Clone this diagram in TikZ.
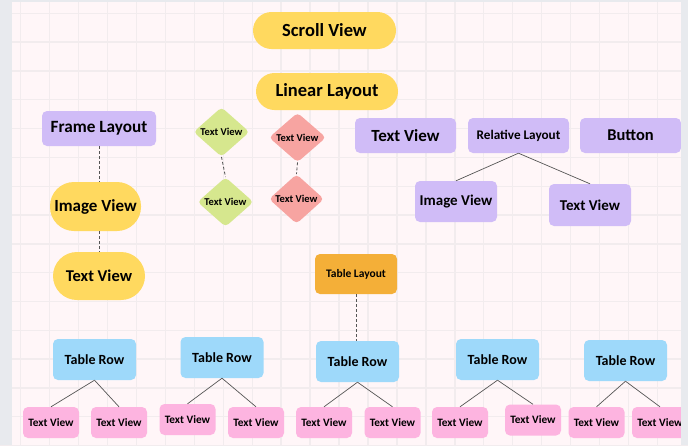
\documentclass[tikz,border=0pt]{standalone}
\usepackage{fontspec}
\setmainfont{Carlito}
\usetikzlibrary{shapes.geometric}
\definecolor{bgc}{HTML}{FFF6F8}
\definecolor{gridc}{HTML}{F2ECEE}
\definecolor{stripc}{HTML}{E8EAEE}
\definecolor{yel}{HTML}{FFD95F}
\definecolor{pur}{HTML}{D0BCF7}
\definecolor{grn}{HTML}{D6E78E}
\definecolor{salm}{HTML}{F7A4A1}
\definecolor{org}{HTML}{F4AF38}
\definecolor{blu}{HTML}{9ED9FA}
\definecolor{pnk}{HTML}{FDB4E0}
\definecolor{linec}{HTML}{555555}
\begin{document}
\begin{tikzpicture}[x=1pt,y=-1pt,
  base/.style={inner sep=0pt, align=center, font=\bfseries},
  pill/.style={base, fill=yel, rounded corners=#1},
  purbox/.style={base, fill=pur, rounded corners=5pt, minimum width=101pt, minimum height=35pt},
  dia/.style={base, diamond, rounded corners=4pt, minimum width=56pt, minimum height=48pt, font=\bfseries\fontsize{10.5}{12}\selectfont},
  rowbox/.style={base, fill=blu, rounded corners=5pt, minimum width=83pt, minimum height=41pt, font=\bfseries\fontsize{14}{16}\selectfont},
  tvbox/.style={base, fill=pnk, rounded corners=5pt, minimum width=56pt, minimum height=31pt, font=\bfseries\fontsize{11.3}{13}\selectfont},
  dashc/.style={draw=linec, line width=0.8pt, dash pattern=on 3pt off 2pt},
  solidc/.style={draw=linec, line width=0.7pt}]
\useasboundingbox (0,0) rectangle (688,445);
\fill[bgc] (0,0) rectangle (688,445);
\foreach \i in {0,...,23} \draw[gridc, line width=1.4pt] ({20.7+28.94*\i},0) -- ++(0,445);
\foreach \j in {0,...,15} \draw[gridc, line width=1.4pt] (0,{13.3+28.82*\j}) -- ++(688,0);
\fill[stripc] (0,0) rectangle (12,445);
\fill[stripc] (0,0) rectangle (688,2);

% top column
\node[pill=18.5pt, minimum width=143pt, minimum height=37pt, font=\bfseries\fontsize{18.5}{20}\selectfont] (scroll) at (324.5,30.5) {Scroll View};
\node[pill=18.5pt, minimum width=142pt, minimum height=37pt, font=\bfseries\fontsize{18.5}{20}\selectfont] (linear) at (327,91.5) {Linear Layout};

% left column
\node[base, fill=pur, rounded corners=5pt, minimum width=114pt, minimum height=35pt, font=\bfseries\fontsize{17.2}{18}\selectfont] (frame) at (99,128.5) {Frame Layout};
\node[pill=24pt, minimum width=91pt, minimum height=49pt, font=\bfseries\fontsize{17}{18}\selectfont] (imgY) at (95.5,206.5) {Image View};
\node[pill=24pt, minimum width=92pt, minimum height=48pt, font=\bfseries\fontsize{16.5}{18}\selectfont] (txtY) at (99,276) {Text View};
\draw[dashc] (frame.south) -- (frame.south |- imgY.north);
\draw[dashc] (imgY.south -| frame.south) -- (frame.south |- txtY.north);

% diamonds
\node[dia, fill=grn] (g1) at (221.5,132) {Text View};
\node[dia, fill=grn] (g2) at (225.5,202) {Text View};
\node[dia, fill=salm, minimum width=57pt, minimum height=49pt] (r1) at (297.5,137.5) {Text View};
\node[dia, fill=salm, minimum width=55pt] (r2) at (296.5,199) {Text View};
\draw[dashc] (g1.south) -- (g2.north);
\draw[dashc] (r1.south) -- (r2.north);

% right group
\node[purbox, font=\bfseries\fontsize{17}{18}\selectfont] (tvP) at (405.5,135.5) {Text View};
\node[purbox, font=\bfseries\fontsize{13.2}{15}\selectfont] (rel) at (518.5,135.5) {Relative Layout};
\node[purbox, font=\bfseries\fontsize{16.5}{18}\selectfont] (btn) at (630.5,135.5) {Button};
\node[base, fill=pur, rounded corners=5pt, minimum width=82pt, minimum height=41pt, font=\bfseries\fontsize{15}{16}\selectfont] (imgP) at (456,201.5) {Image View};
\node[base, fill=pur, rounded corners=5pt, minimum width=82pt, minimum height=42pt, font=\bfseries\fontsize{15}{16}\selectfont] (tvP2) at (590,205) {Text View};
\draw[solidc] (rel.south) -- (imgP.north);
\draw[solidc] (rel.south) -- (tvP2.north);

% table layout
\node[base, fill=org, rounded corners=5pt, minimum width=82pt, minimum height=40pt, font=\bfseries\fontsize{11.5}{13}\selectfont] (tl) at (356,274) {Table Layout};

% table rows
\node[rowbox] (tr1) at (94.5,359.5) {Table Row};
\node[rowbox] (tr2) at (222,357.5) {Table Row};
\node[rowbox] (tr3) at (357.5,361.5) {Table Row};
\node[rowbox] (tr4) at (497.5,359.5) {Table Row};
\node[rowbox] (tr5) at (625.5,360.5) {Table Row};
\draw[dashc] (tl.south) -- (tl.south |- tr3.north);

% text views
\node[tvbox] (p1) at (51,422.5) {Text View};
\node[tvbox] (p2) at (119,422.5) {Text View};
\node[tvbox] (p3) at (187.5,419.5) {Text View};
\node[tvbox] (p4) at (256,422.5) {Text View};
\node[tvbox] (p5) at (324,422.5) {Text View};
\node[tvbox] (p6) at (392.5,422.5) {Text View};
\node[tvbox] (p7) at (460,422.5) {Text View};
\node[tvbox] (p8) at (533,420) {Text View};
\node[tvbox] (p9) at (596.5,422.5) {Text View};
\node[tvbox] (p10) at (660,422.5) {Text View};
\draw[solidc] (tr1.south) -- (p1.north);
\draw[solidc] (tr1.south) -- (p2.north);
\draw[solidc] (tr2.south) -- (p3.north);
\draw[solidc] (tr2.south) -- (p4.north);
\draw[solidc] (tr3.south) -- (p5.north);
\draw[solidc] (tr3.south) -- (p6.north);
\draw[solidc] (tr4.south) -- (p7.north);
\draw[solidc] (tr4.south) -- (p8.north);
\draw[solidc] (tr5.south) -- (p9.north);
\draw[solidc] (tr5.south) -- (p10.north);

\fill[stripc] (681,0) rectangle (688,445);
\end{tikzpicture}
\end{document}
